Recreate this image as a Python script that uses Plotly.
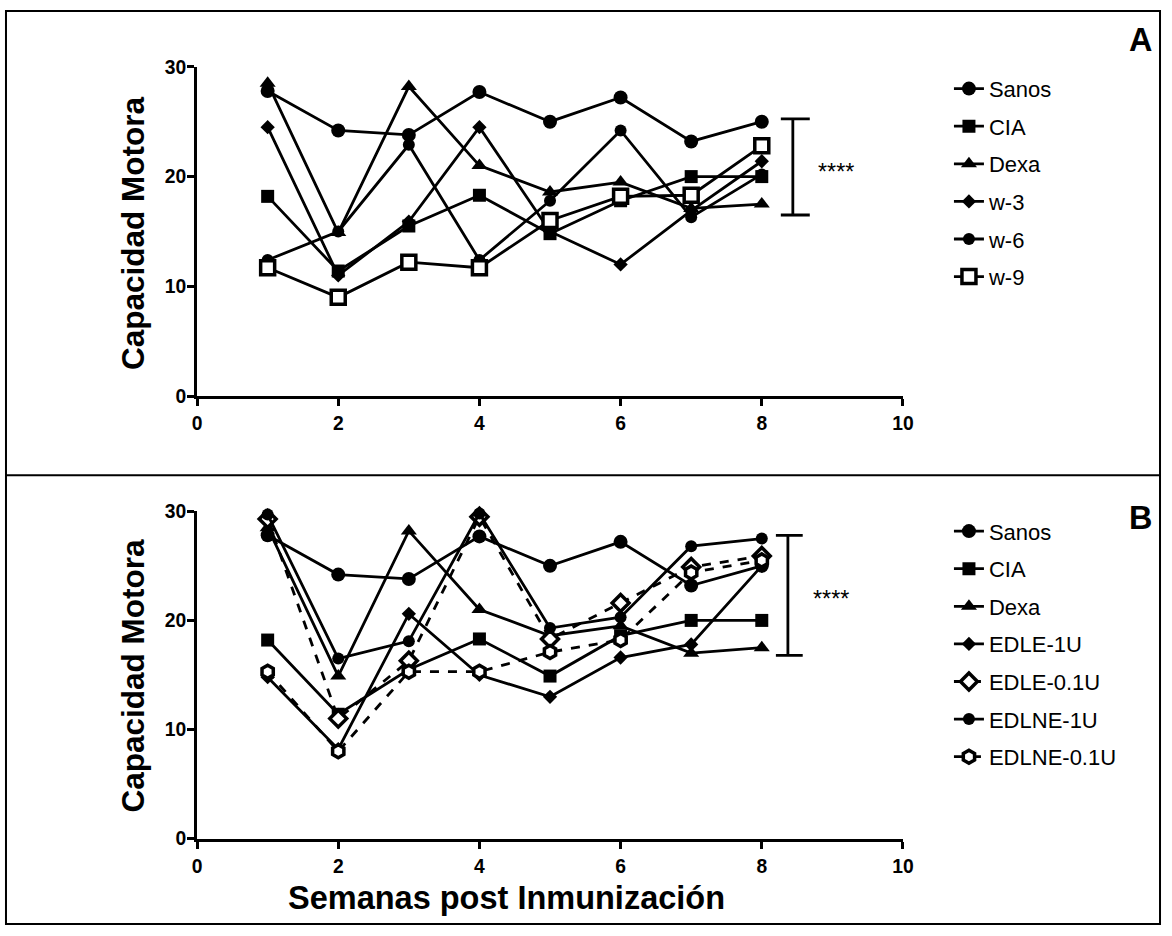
import plotly.graph_objects as go

# Semanas post inmunización
weeks = [1, 2, 3, 4, 5, 6, 7, 8]

# Panel A: capacidad motora por grupo
a_sanos = [27.8, 24.2, 23.8, 27.7, 25.0, 27.2, 23.2, 25.0]
a_cia = [18.2, 11.4, 15.5, 18.3, 14.8, 17.8, 20.0, 20.0]
a_dexa = [28.5, 14.9, 28.2, 21.0, 18.6, 19.5, 17.1, 17.5]
a_w3 = [24.5, 11.0, 15.9, 24.5, 15.0, 12.0, 16.9, 21.4]
a_w6 = [12.4, 15.0, 22.9, 12.4, 17.8, 24.2, 16.3, 20.2]
a_w9 = [11.7, 9.0, 12.2, 11.7, 16.0, 18.2, 18.3, 22.8]

# Panel B: capacidad motora por grupo
b_sanos = [27.8, 24.2, 23.8, 27.7, 25.0, 27.2, 23.2, 25.0]
b_cia = [18.2, 11.4, 15.5, 18.3, 14.9, 18.6, 20.0, 20.0]
b_dexa = [28.5, 14.9, 28.2, 21.0, 18.6, 19.5, 17.0, 17.5]
b_edle_1u = [14.8, 8.2, 20.6, 15.0, 13.0, 16.6, 17.8, 25.0]
b_edle_01u = [29.3, 11.0, 16.3, 29.5, 18.3, 21.6, 24.9, 25.9]
b_edlne_1u = [29.7, 16.5, 18.1, 29.8, 19.3, 20.3, 26.8, 27.5]
b_edlne_01u = [15.3, 8.0, 15.3, 15.3, 17.1, 18.2, 24.4, 25.5]

x_ticks = [0, 2, 4, 6, 8, 10]
y_ticks = [0, 10, 20, 30]

FONT = "Liberation Sans, Arial, sans-serif"
BLACK = "black"
W, H = 1172, 936

# page placement of the figure (body offset and fit-to-window scale)
SX, MX = 0.9865, 7.0
SY, MY = 0.9765, 10.5


def qx(p):
    return p / SX - MX


def qy(p):
    return p / SY - MY


def px_x(p):
    return min(max(qx(p), 1), W - 1) / W


def px_y(p):
    return (H - min(max(qy(p), 1), H - 1)) / H


def fs(size):
    return round(size / SX, 1)


# marker styles per group
STYLE = {
    "Sanos": dict(symbol="circle", size=14, color=BLACK, line=dict(width=0)),
    "CIA": dict(symbol="square", size=13, color=BLACK, line=dict(width=0)),
    "Dexa": dict(symbol="triangle-up", size=14, color=BLACK, line=dict(width=0)),
    "diamond": dict(symbol="diamond", size=11, color=BLACK, line=dict(width=0)),
    "circle_s": dict(symbol="circle", size=12, color=BLACK, line=dict(width=0)),
    "open_square": dict(symbol="square", size=14, color="white", line=dict(width=3.5, color=BLACK)),
    "open_diamond": dict(symbol="diamond", size=13, color="white", line=dict(width=3.5, color=BLACK)),
    "open_hexagon": dict(symbol="hexagon", size=13, color="white", line=dict(width=3.5, color=BLACK)),
}

fig = go.Figure()


def add_series(name, values, style, xa, ya, legend, dash="solid"):
    fig.add_trace(go.Scatter(
        x=weeks, y=values, name=name, mode="lines+markers",
        line=dict(color=BLACK, width=2.8, dash=dash),
        marker=STYLE[style], xaxis=xa, yaxis=ya,
        legend=legend, legendgroup=legend + name, cliponaxis=False,
    ))


add_series("Sanos", a_sanos, "Sanos", "x", "y", "legend")
add_series("CIA", a_cia, "CIA", "x", "y", "legend")
add_series("Dexa", a_dexa, "Dexa", "x", "y", "legend")
add_series("w-3", a_w3, "diamond", "x", "y", "legend")
add_series("w-6", a_w6, "circle_s", "x", "y", "legend")
add_series("w-9", a_w9, "open_square", "x", "y", "legend")

add_series("Sanos", b_sanos, "Sanos", "x2", "y2", "legend2")
add_series("CIA", b_cia, "CIA", "x2", "y2", "legend2")
add_series("Dexa", b_dexa, "Dexa", "x2", "y2", "legend2")
add_series("EDLE-1U", b_edle_1u, "diamond", "x2", "y2", "legend2")
add_series("EDLE-0.1U", b_edle_01u, "open_diamond", "x2", "y2", "legend2", dash="dash")
add_series("EDLNE-1U", b_edlne_1u, "circle_s", "x2", "y2", "legend2")
add_series("EDLNE-0.1U", b_edlne_01u, "open_hexagon", "x2", "y2", "legend2", dash="dash")

x_dom = [px_x(199), px_x(905)]
tickfont = dict(family=FONT, size=fs(19), color=BLACK, weight="bold")
axis_common = dict(
    showline=True, linecolor=BLACK, linewidth=2.8, showgrid=False, zeroline=False,
    ticks="outside", ticklen=7, tickwidth=2.8, tickcolor=BLACK, tickfont=tickfont,
    fixedrange=True,
)
xaxis_common = dict(axis_common, ticklabelstandoff=1)
yaxis_common = dict(axis_common, ticklabelstandoff=-3)
legend_font = dict(family=FONT, size=22, color=BLACK)

fig.update_layout(
    width=W, height=H, margin=dict(l=0, r=0, t=0, b=0),
    paper_bgcolor="white", plot_bgcolor="white",
    xaxis=dict(domain=x_dom, range=[0, 10], tickvals=x_ticks, anchor="y", **xaxis_common),
    yaxis=dict(domain=[px_y(396), px_y(67)], range=[0, 30], tickvals=y_ticks, anchor="x", **yaxis_common),
    xaxis2=dict(domain=x_dom, range=[0, 10], tickvals=x_ticks, anchor="y2", **xaxis_common),
    yaxis2=dict(domain=[px_y(838), px_y(511)], range=[0, 30], tickvals=y_ticks, anchor="x2", **yaxis_common),
    legend=dict(x=px_x(951), y=px_y(68), xanchor="left", yanchor="top", font=legend_font,
                traceorder="grouped", tracegroupgap=6, bgcolor="rgba(0,0,0,0)"),
    legend2=dict(x=px_x(951), y=px_y(510), xanchor="left", yanchor="top", font=legend_font,
                 traceorder="grouped", tracegroupgap=6, bgcolor="rgba(0,0,0,0)"),
    showlegend=True,
)

# outer frame and divider between panels
fig.add_shape(type="rect", xref="paper", yref="paper",
              x0=px_x(6), x1=px_x(1166), y0=px_y(931), y1=px_y(5),
              line=dict(color=BLACK, width=2))
fig.add_shape(type="line", xref="paper", yref="paper",
              x0=px_x(6), x1=px_x(1166), y0=px_y(475), y1=px_y(475),
              line=dict(color=BLACK, width=2))


# significance brackets
def bracket(xref, yref, xc, x0, x1, y0, y1, tx, ty):
    ln = dict(color=BLACK, width=2.8)
    fig.add_shape(type="line", xref=xref, yref=yref, x0=xc, x1=xc, y0=y0, y1=y1, line=ln)
    fig.add_shape(type="line", xref=xref, yref=yref, x0=x0, x1=x1, y0=y0, y1=y0, line=ln)
    fig.add_shape(type="line", xref=xref, yref=yref, x0=x0, x1=x1, y0=y1, y1=y1, line=ln)
    fig.add_annotation(xref=xref, yref=yref, x=tx, y=ty, text="****", showarrow=False,
                       font=dict(family=FONT, size=fs(23), color=BLACK),
                       xanchor="left", yanchor="middle")


bracket("x", "y", 8.44, 8.27, 8.68, 16.5, 25.25, 8.77, 20.4)
bracket("x2", "y2", 8.37, 8.20, 8.58, 16.8, 27.8, 8.70, 22.0)

# axis titles and panel letters
ytitle_font = dict(family=FONT, size=31.5, color=BLACK, weight="bold")
for yc in (233, 675):
    fig.add_annotation(xref="paper", yref="paper", x=px_x(135), y=px_y(yc),
                       xanchor="center", yanchor="middle",
                       text="Capacidad Motora", textangle=-90, showarrow=False, font=ytitle_font)
fig.add_annotation(xref="paper", yref="paper", x=px_x(508), y=px_y(897),
                   xanchor="center", yanchor="middle",
                   text="Semanas post Inmunización", showarrow=False,
                   font=dict(family=FONT, size=32.5, color=BLACK, weight="bold"))
letter_font = dict(family=FONT, size=fs(32), color=BLACK, weight="bold")
fig.add_annotation(xref="paper", yref="paper", x=px_x(1143), y=px_y(40),
                   xanchor="center", yanchor="middle",
                   text="A", showarrow=False, font=letter_font)
fig.add_annotation(xref="paper", yref="paper", x=px_x(1143), y=px_y(518),
                   xanchor="center", yanchor="middle",
                   text="B", showarrow=False, font=letter_font)

fig.write_html("out.html")
